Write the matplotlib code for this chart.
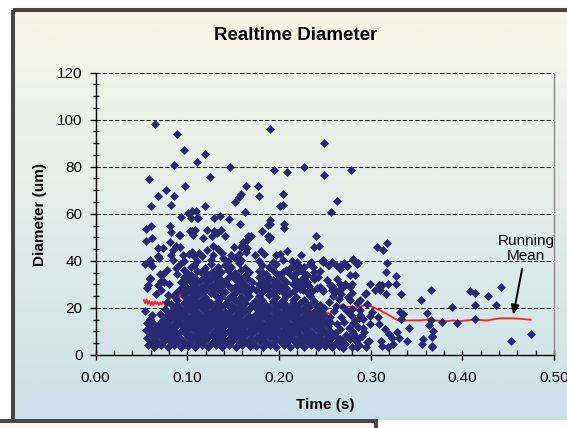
import numpy as np
import matplotlib
matplotlib.use("Agg")
import matplotlib.pyplot as plt
from matplotlib.patches import Rectangle
from matplotlib.ticker import MultipleLocator, FormatStrFormatter

plt.rcParams['font.family'] = ['Liberation Sans', 'DejaVu Sans']

# ---------------- data (time s, diameter um) as flat x,y pairs ----------------
upper_points = [
    0.0644,98.3, 0.0893,93.7, 0.0964,87.2, 0.111,82.0, 0.119,85.4, 0.085,80.6, 0.1245,75.8,
    0.1466,79.9, 0.190,96.2, 0.1945,78.5, 0.2087,77.6, 0.2277,79.9, 0.249,89.9, 0.2486,76.3,
    0.278,78.5, 0.0585,74.9, 0.068,67.7, 0.0763,70.1, 0.0972,71.8, 0.0854,67.6, 0.0818,63.9,
    0.060,63.1, 0.119,63.2, 0.164,72.0, 0.1767,72.0, 0.1787,67.7, 0.1585,68.2, 0.156,67.0,
    0.152,64.9, 0.2043,68.2, 0.2016,63.2, 0.204,63.9, 0.263,65.4, 0.2565,60.6, 0.163,60.8,
    0.1008,60.3, 0.105,61.0, 0.110,61.0, 0.104,58.2, 0.111,58.2, 0.093,58.7, 0.129,58.2,
    0.136,59.2, 0.1455,57.6, 0.1905,57.3, 0.190,55.8, 0.205,55.8, 0.205,53.8, 0.158,55.6,
    0.0553,53.7, 0.0605,54.6, 0.081,54.6, 0.0818,52.1, 0.0917,51.0, 0.105,52.7, 0.1087,53.2,
    0.1217,53.2, 0.132,52.0, 0.137,53.2, 0.1411,50.6, 0.1818,52.7, 0.188,50.7, 0.190,50.1,
    0.2407,50.4, 0.0549,48.5, 0.0617,49.6, 0.166,50.4, 0.169,50.4, 0.160,46.9, 0.165,45.5,
    0.3067,45.9, 0.3134,44.8, 0.318,47.5, 0.238,45.9, 0.2431,46.5, 0.068,45.5, 0.0735,45.5,
    0.0874,46.5, 0.092,46.0, 0.128,46.2, 0.1336,45.1, 0.151,45.9, 0.180,44.2, 0.197,42.3,
    0.209,44.2, 0.0538,38.5, 0.0597,39.2, 0.0676,42.0, 0.2806,40.8, 0.2858,39.2, 0.258,39.7,
    0.248,39.7, 0.2534,38.2, 0.2668,37.7, 0.274,37.7,
    0.1120,58.2, 0.1884,55.1, 0.0913,50.9, 0.1029,52.6, 0.1058,50.9, 0.1175,49.8, 0.1291,52.8,
    0.1273,50.5, 0.1895,49.4, 0.0811,48.0, 0.1647,49.0, 0.1611,48.0, 0.1586,45.9, 0.1640,43.8,
    0.0848,44.5, 0.0822,42.4, 0.0950,42.4, 0.1047,43.8, 0.1077,42.0, 0.1131,43.4, 0.1211,44.5,
    0.1284,42.4, 0.1375,43.4, 0.1473,42.4, 0.1393,41.0, 0.1520,41.4, 0.1837,43.0, 0.0695,41.4,
    0.0593,40.2, 0.0841,40.5,
]

left_points = [
    0.054,18.9, 0.057,29.6, 0.059,32.8, 0.061,37.7, 0.068,42.0, 0.073,34.5, 0.075,31.0,
    0.066,26.0, 0.071,27.5, 0.078,22.5, 0.062,17.0, 0.070,17.5, 0.076,19.5, 0.079,25.5,
    0.080,30.0, 0.078,36.0, 0.0593,32.4, 0.0557,28.6, 0.0702,34.5, 0.0713,31.3, 0.0684,29.6,
]

core_low = [
    0.057,4.1, 0.064,3.4, 0.071,4.3, 0.079,3.6, 0.086,4.4, 0.093,3.2, 0.101,4.0, 0.108,3.5,
    0.116,4.2, 0.123,3.3, 0.131,4.4, 0.138,3.6, 0.146,4.1, 0.153,3.4, 0.160,4.3, 0.168,3.7,
    0.175,4.0, 0.183,3.3, 0.190,4.4, 0.197,3.5, 0.205,4.2, 0.212,3.4, 0.220,4.1, 0.227,3.6,
    0.235,4.3, 0.243,3.5, 0.250,4.0, 0.258,3.4,
    0.060,5.8, 0.068,5.3, 0.075,6.0, 0.082,5.4, 0.090,5.9, 0.097,5.2, 0.104,5.7, 0.112,5.5,
    0.119,6.0, 0.127,5.3, 0.134,5.8, 0.142,5.4, 0.149,6.1, 0.157,5.5, 0.164,5.7, 0.171,5.2,
    0.179,5.9, 0.186,5.6, 0.194,5.3, 0.201,6.0, 0.209,5.5, 0.216,5.8, 0.224,5.2, 0.231,5.9,
    0.239,5.4, 0.246,6.0, 0.254,5.5, 0.262,5.1,
    0.056,7.3, 0.064,7.0, 0.071,7.6, 0.078,7.1, 0.086,7.4, 0.093,6.9, 0.101,7.5, 0.108,7.2,
    0.115,7.0, 0.123,7.6, 0.130,7.1, 0.138,7.3, 0.145,6.9, 0.153,7.5, 0.160,7.2, 0.168,7.0,
    0.175,7.4, 0.182,7.1, 0.190,7.6, 0.197,7.0, 0.205,7.3, 0.212,7.5, 0.220,7.0, 0.227,7.4,
    0.235,7.1, 0.242,7.5, 0.250,6.9, 0.257,7.3, 0.266,7.0,
    0.059,8.7, 0.067,9.1, 0.074,8.6, 0.082,9.0, 0.089,8.8, 0.097,9.2, 0.104,8.6, 0.112,9.0,
    0.119,8.7, 0.127,9.1, 0.134,8.8, 0.141,9.3, 0.149,8.6, 0.156,9.0, 0.164,8.8, 0.171,9.2,
    0.179,8.7, 0.186,9.0, 0.193,8.6, 0.201,9.1, 0.208,8.8, 0.216,9.2, 0.223,8.7, 0.231,9.0,
    0.238,8.6, 0.246,9.1, 0.253,8.8, 0.261,9.2,
]

core_mid = [
    0.055,10.5, 0.063,10.2, 0.070,10.7, 0.078,10.3, 0.085,10.6, 0.093,10.1, 0.100,10.5,
    0.108,10.8, 0.115,10.3, 0.122,10.6, 0.130,10.2, 0.137,10.7, 0.145,10.4, 0.152,10.1,
    0.160,10.6, 0.167,10.3, 0.175,10.8, 0.182,10.4, 0.190,10.2, 0.197,10.6, 0.204,10.3,
    0.212,10.7, 0.219,10.1, 0.227,10.5, 0.234,10.3, 0.242,10.8, 0.249,10.4, 0.256,10.2,
    0.058,12.1, 0.066,11.8, 0.073,12.3, 0.081,11.9, 0.088,12.2, 0.096,11.7, 0.103,12.1,
    0.111,12.4, 0.118,11.9, 0.126,12.2, 0.133,11.8, 0.140,12.3, 0.148,12.0, 0.155,11.7,
    0.163,12.2, 0.170,11.9, 0.178,12.4, 0.185,12.0, 0.193,11.8, 0.200,12.2, 0.208,11.9,
    0.215,12.3, 0.223,11.7, 0.230,12.1, 0.238,12.4, 0.245,11.9, 0.253,12.2,
    0.056,13.4, 0.062,13.9, 0.070,13.5, 0.077,13.8, 0.085,13.3, 0.092,13.7, 0.100,14.0,
    0.107,13.5, 0.115,13.8, 0.122,13.4, 0.130,13.9, 0.137,13.6, 0.144,13.3, 0.152,13.8,
    0.159,13.5, 0.167,14.0, 0.174,13.6, 0.182,13.4, 0.189,13.8, 0.197,13.5, 0.204,13.9,
    0.211,13.3, 0.219,13.7, 0.226,14.0, 0.234,13.5, 0.241,13.8, 0.249,13.4, 0.256,13.9,
    0.059,15.3, 0.074,15.0, 0.081,15.4, 0.088,15.1, 0.096,15.6, 0.103,15.2, 0.111,15.0,
    0.118,15.5, 0.126,15.1, 0.133,15.4, 0.141,15.0, 0.148,15.5, 0.156,15.2, 0.163,14.9,
    0.171,15.4, 0.178,15.1, 0.186,15.6, 0.193,15.2, 0.200,15.0, 0.208,15.5, 0.215,15.1,
    0.223,15.4, 0.230,15.0, 0.238,15.5, 0.245,15.2, 0.253,14.9,
]

core_high = [
    0.078,16.9, 0.085,16.6, 0.092,17.1, 0.100,16.7, 0.107,17.0, 0.115,16.5, 0.122,17.2,
    0.129,16.8, 0.137,16.6, 0.144,17.1, 0.152,16.7, 0.159,17.0, 0.167,16.5, 0.174,17.1,
    0.182,16.8, 0.189,16.6, 0.197,17.0, 0.204,16.7, 0.212,17.2, 0.219,16.8, 0.227,16.5,
    0.234,17.0, 0.242,16.7, 0.249,17.1,
    0.082,18.3, 0.089,18.7, 0.096,18.2, 0.104,18.6, 0.111,18.4, 0.119,18.8, 0.126,18.2,
    0.133,18.5, 0.141,18.3, 0.148,18.7, 0.156,18.1, 0.163,18.5, 0.178,18.6, 0.185,18.2,
    0.193,18.7, 0.200,18.3, 0.208,18.5, 0.215,18.2, 0.223,18.8, 0.230,18.4, 0.238,18.1,
    0.245,18.6,
    0.085,20.1, 0.092,19.8, 0.100,20.3, 0.107,19.9, 0.115,20.2, 0.130,19.8, 0.137,20.3,
    0.152,20.0, 0.159,20.4, 0.167,19.7, 0.182,20.1, 0.189,19.8, 0.197,20.3, 0.212,19.9,
    0.219,20.2, 0.227,19.8, 0.242,20.3, 0.249,19.9,
    0.082,21.5, 0.096,21.9, 0.104,21.4, 0.111,21.8, 0.119,21.5, 0.126,22.0, 0.141,21.6,
    0.148,21.3, 0.156,21.9, 0.171,21.5, 0.178,21.8, 0.186,21.4, 0.200,21.7, 0.208,21.4,
    0.223,21.9, 0.230,21.5, 0.245,21.3,
    0.089,23.3, 0.100,23.0, 0.107,23.5, 0.115,23.1, 0.122,23.4, 0.133,23.0, 0.144,23.6,
    0.152,23.2, 0.163,23.5, 0.174,23.1, 0.182,23.4, 0.193,23.0, 0.204,23.5, 0.215,23.2,
    0.227,23.4, 0.238,23.0,
    0.085,24.9, 0.096,25.2, 0.104,24.7, 0.111,25.1, 0.119,24.8, 0.130,25.3, 0.137,24.6,
    0.148,25.0, 0.159,24.7, 0.167,25.2, 0.178,24.9, 0.189,25.3, 0.197,24.7, 0.208,25.0,
    0.219,24.8, 0.234,25.1,
]

core_top = [
    0.088,26.4, 0.100,26.8, 0.107,26.3, 0.115,26.7, 0.126,26.5, 0.141,26.9, 0.152,26.4,
    0.163,26.6, 0.182,26.8, 0.193,26.3, 0.204,26.7, 0.212,26.4, 0.230,26.6,
    0.092,28.1, 0.104,28.5, 0.111,28.0, 0.122,28.4, 0.133,28.2, 0.148,28.6, 0.159,28.0,
    0.171,28.3, 0.186,28.5, 0.197,28.1, 0.208,28.4, 0.223,28.2, 0.241,28.6,
    0.096,29.9, 0.107,30.3, 0.119,29.8, 0.130,30.2, 0.144,29.9, 0.156,30.4, 0.178,30.1,
    0.189,29.7, 0.200,30.3, 0.215,30.0, 0.227,29.8,
    0.100,32.1, 0.115,31.7, 0.126,32.3, 0.137,31.9, 0.152,32.2, 0.167,31.8, 0.182,32.4,
    0.193,31.9, 0.204,32.2, 0.219,31.8, 0.238,32.1,
    0.089,34.2, 0.104,33.8, 0.122,34.3, 0.133,33.9, 0.148,34.1, 0.163,33.7, 0.186,34.4,
    0.200,33.9, 0.212,34.2, 0.230,33.8,
    0.096,36.1, 0.111,35.8, 0.130,36.3, 0.144,35.9, 0.159,36.2, 0.178,35.7, 0.193,36.3,
    0.208,35.9, 0.223,36.1, 0.245,35.8,
    0.092,38.6, 0.107,38.2, 0.126,38.8, 0.141,38.4, 0.156,38.9, 0.182,38.3, 0.197,38.7,
    0.219,38.4, 0.234,38.8,
]

core_fill = [
    0.094,27.2, 0.102,27.5, 0.118,27.1, 0.130,27.6, 0.137,27.3, 0.156,27.4, 0.167,27.2,
    0.175,27.6, 0.189,27.3, 0.200,27.5, 0.216,27.2, 0.226,27.6, 0.236,27.3, 0.248,27.1,
    0.098,29.1, 0.115,29.0, 0.126,29.3, 0.138,29.2, 0.152,29.0, 0.164,29.4, 0.182,29.1,
    0.193,29.3, 0.204,29.0, 0.219,29.2, 0.233,29.4, 0.245,29.0,
    0.093,31.0, 0.104,31.2, 0.111,30.8, 0.122,31.3, 0.133,30.9, 0.141,31.2, 0.160,30.9,
    0.171,31.1, 0.186,31.0, 0.197,31.3, 0.208,30.8, 0.223,31.1, 0.231,31.0,
    0.096,33.0, 0.108,32.8, 0.119,33.2, 0.130,33.1, 0.144,32.9, 0.156,33.3, 0.178,33.0,
    0.189,32.8, 0.215,33.2, 0.226,32.9, 0.242,33.1,
    0.100,35.0, 0.115,35.2, 0.126,34.9, 0.137,35.3, 0.152,35.0, 0.167,35.2, 0.182,35.1,
    0.197,34.9, 0.204,35.3, 0.219,35.0, 0.238,35.2,
    0.088,37.1, 0.104,37.3, 0.119,37.0, 0.133,37.4, 0.148,37.2, 0.163,37.0, 0.189,37.3,
    0.212,37.1, 0.227,37.4,
    0.096,40.1, 0.111,39.8, 0.126,40.3, 0.144,39.9, 0.159,40.2, 0.178,40.0, 0.193,39.7,
    0.204,40.4,
    0.102,42.8, 0.116,42.2, 0.156,42.9, 0.174,42.4, 0.201,42.7, 0.224,42.3,
    0.122,20.6, 0.145,20.8, 0.174,20.4, 0.204,20.6, 0.234,20.7, 0.089,21.2, 0.133,21.9,
    0.163,22.0, 0.193,22.2, 0.215,22.0, 0.238,21.8,
    0.256,16.2, 0.262,21.0, 0.255,22.5, 0.259,25.0, 0.268,25.9, 0.280,26.5, 0.285,22.0,
    0.274,18.5, 0.288,17.2, 0.292,11.5, 0.283,8.0, 0.296,5.5, 0.270,3.0,
    0.0605,4.7, 0.0975,4.8, 0.135,4.9, 0.172,4.8, 0.209,4.7, 0.246,4.8, 0.0785,11.2,
    0.116,11.3, 0.153,11.1, 0.190,11.2, 0.228,11.3, 0.0895,14.5, 0.127,14.4, 0.164,14.6,
    0.201,14.5, 0.238,14.4,
]

right_points = [
    0.265,3.8, 0.272,4.6, 0.280,3.5, 0.287,4.2, 0.269,6.2, 0.277,6.8, 0.284,5.9, 0.262,8.1,
    0.273,8.6, 0.281,9.3, 0.290,8.0, 0.266,10.9, 0.276,11.4, 0.286,12.0, 0.263,13.2,
    0.271,14.1, 0.281,13.6, 0.268,16.3, 0.278,17.0, 0.260,18.8, 0.270,20.5, 0.265,23.6,
    0.275,24.8, 0.262,27.0, 0.258,29.5, 0.270,29.0,
    0.2138,40.0, 0.2193,39.5, 0.2157,37.4, 0.2230,37.4, 0.2266,35.2, 0.2346,39.5, 0.2375,37.4,
    0.2466,39.9, 0.2550,38.1, 0.2666,36.7, 0.2739,37.8, 0.2804,40.2, 0.2848,38.8, 0.2375,33.1,
    0.2520,31.7, 0.2637,32.4, 0.2666,30.2, 0.2829,33.8, 0.2793,30.2, 0.2774,28.8, 0.2575,27.4,
    0.2466,28.1, 0.2666,28.1, 0.2993,30.2, 0.3047,27.7, 0.3094,29.6, 0.2938,26.0, 0.2884,19.2,
    0.3011,18.2, 0.2993,16.5, 0.3084,16.1,
    0.3174,39.1, 0.3167,35.2, 0.3272,33.5, 0.3276,30.3, 0.3119,29.6, 0.3192,30.0, 0.3101,27.4,
    0.2949,26.3, 0.3167,26.0, 0.3331,26.0, 0.3320,18.2, 0.3348,17.5, 0.3094,13.3, 0.2992,13.0,
    0.3156,11.1, 0.3204,8.9, 0.3229,7.3, 0.3291,9.7, 0.3313,7.3, 0.3247,4.7, 0.3192,3.3,
    0.3108,5.8, 0.2949,3.3, 0.2847,3.3, 0.2876,7.3, 0.2792,10.4, 0.2920,15.4, 0.2829,15.0,
    0.2956,21.8, 0.2883,23.2, 0.2774,23.2, 0.2720,30.3, 0.2774,33.8, 0.2556,29.9, 0.2484,40.2,
    0.2622,38.1, 0.2709,39.0,
]

tail_points = [
    0.3545,23.4, 0.3656,27.7, 0.408,27.0, 0.4142,26.5, 0.428,24.9, 0.4423,28.9, 0.4368,21.4,
    0.4142,21.4, 0.389,20.6, 0.4142,15.5, 0.394,13.7, 0.3779,14.2, 0.3613,17.9, 0.366,14.8,
    0.3636,12.7, 0.368,10.1, 0.3672,8.2, 0.3664,3.9, 0.3557,4.6, 0.357,6.8, 0.342,11.4,
    0.3391,5.8, 0.4526,6.1, 0.4747,8.9, 0.333,15.2, 0.312,3.7, 0.298,6.1, 0.2925,9.9,
    0.2874,15.9, 0.280,19.7, 0.3665,7.6, 0.3640,12.8, 0.3665,3.6,
]

running_mean = [
    0.0525,23.4, 0.054,22.0, 0.0555,23.6, 0.057,21.6, 0.0585,22.9, 0.060,21.3, 0.0615,22.6,
    0.063,21.1, 0.0645,22.8, 0.066,21.7, 0.0675,22.5, 0.069,21.2, 0.0705,22.3, 0.072,21.5,
    0.0735,22.7, 0.075,21.6, 0.0765,21.0, 0.078,22.0, 0.0795,22.9, 0.081,23.8, 0.0825,24.6,
    0.084,24.0, 0.0855,25.1, 0.087,24.3, 0.0885,24.6, 0.090,25.3, 0.0915,24.4, 0.093,25.8,
    0.0945,24.8, 0.096,25.0, 0.0975,24.2, 0.099,24.0, 0.102,23.6, 0.1066,23.0, 0.111,22.2,
    0.116,21.5, 0.1211,20.3, 0.125,19.7, 0.130,21.2, 0.1357,22.3, 0.141,21.0, 0.1466,20.3,
    0.152,20.6, 0.1575,20.0, 0.163,20.5, 0.170,20.0, 0.1757,20.3, 0.181,19.8, 0.1866,19.7,
    0.192,18.5, 0.1965,17.2, 0.2011,16.1, 0.206,17.0, 0.212,16.8, 0.219,17.8, 0.2266,17.5,
    0.2302,19.0, 0.237,18.6, 0.2447,19.7, 0.250,18.4, 0.2556,17.5, 0.260,19.3, 0.2665,21.1,
    0.2701,21.5, 0.2738,20.4, 0.2790,20.6, 0.2846,20.1, 0.2900,20.8, 0.2955,21.1, 0.3010,20.6,
    0.3064,19.6, 0.3120,18.6, 0.3173,17.5, 0.3220,16.5, 0.3264,15.4, 0.3318,14.4, 0.3427,14.7,
    0.3538,14.7, 0.3609,15.0, 0.3664,15.7, 0.3682,14.7, 0.3827,14.4, 0.3901,14.7, 0.3972,14.4,
    0.4119,15.0, 0.4265,14.7, 0.4410,15.6, 0.4556,15.6, 0.4745,15.0,
]

x_ticks = [0.0, 0.1, 0.2, 0.3, 0.4, 0.5]
y_ticks = [0, 20, 40, 60, 80, 100, 120]

# ---------------- figure ----------------
W, H = 567, 428
fig = plt.figure(figsize=(W / 100, H / 100), dpi=100)

bg = fig.add_axes([0, 0, 1, 1], zorder=-10)
bg.axis('off')
bg.add_patch(Rectangle((0, 0), W, H, facecolor='white', edgecolor='none', zorder=-1))
top_c = np.array([248, 247, 232]) / 255
bot_c = np.array([203, 225, 232]) / 255
tt = np.linspace(0, 1, 256)[:, None]
grad = (top_c[None, :] * (1 - tt) + bot_c[None, :] * tt)[:, None, :]
bg.imshow(grad, extent=(13, 620, 420, 10), origin='upper', aspect='auto',
          interpolation='bilinear', zorder=0)
bg.set_xlim(0, W)
bg.set_ylim(H, 0)
bg.add_patch(Rectangle((13, 10.3), 620, 420, fill=False, edgecolor='#474747',
                       linewidth=2.9, zorder=1))
bg.add_patch(Rectangle((-10, 421.3), 385.7, 30, facecolor='#faf9eb',
                       edgecolor='#474747', linewidth=2.9, zorder=2))

ax = fig.add_axes([95.6 / W, 1 - 355 / H, 458.5 / W, 282.5 / H])
ax.set_facecolor('none')

groups = [upper_points, left_points, core_low, core_mid, core_high, core_top,
          core_fill, right_points, tail_points]
pts = np.concatenate([np.array(g, dtype=float).reshape(-1, 2) for g in groups])
rm = np.array(running_mean, dtype=float).reshape(-1, 2)

ax.plot(rm[:, 0], rm[:, 1], color='#ff2222', linewidth=1.3, zorder=2)
ax.scatter(pts[:, 0], pts[:, 1], marker='D', s=21, color='#272a70',
           linewidths=0, zorder=3)

ax.set_xlim(0, 0.5)
ax.set_ylim(0, 120)
ax.set_xticks(x_ticks)
ax.set_yticks(y_ticks)
ax.xaxis.set_major_formatter(FormatStrFormatter('%.2f'))
ax.xaxis.set_minor_locator(MultipleLocator(0.02))
ax.yaxis.set_minor_locator(MultipleLocator(5))

ax.tick_params(axis='x', which='major', direction='inout', length=7, width=1,
               pad=8, labelsize=11, colors='black')
ax.tick_params(axis='x', which='minor', direction='in', length=3.5, width=1)
ax.tick_params(axis='y', which='major', direction='out', length=4.5, width=1,
               pad=5, labelsize=11)
ax.tick_params(axis='y', which='minor', direction='inout', length=4.5, width=1)

ax.yaxis.grid(True, which='major', color='#222222', linestyle=(0, (4, 2)),
              linewidth=0.75)
for gl in ax.get_ygridlines():
    gl.set_clip_on(False)
ax.set_axisbelow(True)

ax.spines['top'].set_visible(False)
ax.spines['right'].set_color('#8a8a8a')
ax.spines['right'].set_linewidth(1.0)
ax.spines['left'].set_linewidth(1.0)
ax.spines['bottom'].set_linewidth(1.0)

ax.annotate('Running\nMean', xy=(0.4555, 17.1), xytext=(0.4695, 45.3),
            ha='center', va='center', fontsize=11, linespacing=1.15,
            annotation_clip=False,
            arrowprops=dict(arrowstyle='-|>,head_length=0.5,head_width=0.22',
                            color='black', lw=1.4, shrinkA=2, shrinkB=0))

fig.text(296 / W, 1 - 35 / H, 'Realtime Diameter', ha='center', va='center',
         fontsize=13.5, fontweight='bold')
fig.text(40 / W, 1 - 214 / H, 'Diameter (um)', ha='center', va='center',
         rotation=90, fontsize=11, fontweight='bold')
fig.text(325 / W, 1 - 405 / H, 'Time (s)', ha='center', va='center',
         fontsize=11, fontweight='bold')

fig.savefig('out.png', dpi=100)
